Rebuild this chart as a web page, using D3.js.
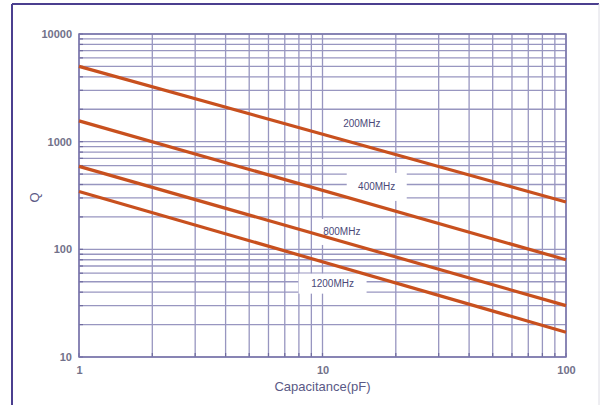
<!DOCTYPE html>
<html>
<head>
<meta charset="utf-8">
<script src="https://cdn.jsdelivr.net/npm/d3@7"></script>
<style>
  html, body { margin: 0; padding: 0; background: #ffffff; }
  svg { display: block; }
</style>
</head>
<body>
<script>
// Q versus capacitance for an RF capacitor family, one line per frequency
const capacitance = [1, 100];               // pF, line end points
const q200MHz  = [5000, 275];
const q400MHz  = [1560, 80];
const q800MHz  = [590, 30];
const q1200MHz = [345, 17];
const seriesNames = ["200MHz", "400MHz", "800MHz", "1200MHz"];
// label anchor points in data units (capacitance, Q)
const labelC = [14.5, 16.7, 12.0, 11.0];
const labelQ = [1460, 380, 145, 48];

const xTickValues = [1, 10, 100];
const yTickValues = [10, 100, 1000, 10000];

const W = 600, H = 405;
const svg = d3.select("body").append("svg").attr("width", W).attr("height", H);

// outer frame
svg.append("line").attr("x1", 12).attr("x2", 12).attr("y1", 4).attr("y2", H)
  .attr("stroke", "#4b3f8f").attr("stroke-width", 2);
svg.append("line").attr("x1", 12).attr("x2", 599).attr("y1", 4).attr("y2", 4)
  .attr("stroke", "#4b3f8f").attr("stroke-width", 2);
svg.append("line").attr("x1", 599).attr("x2", 599).attr("y1", 4).attr("y2", H)
  .attr("stroke", "#dcdce4").attr("stroke-width", 1);

const x = d3.scaleLog().domain([1, 100]).range([79, 566]);
const y = d3.scaleLog().domain([10, 10000]).range([357, 34]);

const gridColor = "#9896c0";
const grid = svg.append("g");

// all decade sub-divisions
const xGrid = [];
for (let d = 1; d < 100; d *= 10) for (let k = 1; k < 10; k++) xGrid.push(d * k);
xGrid.push(100);
const yGrid = [];
for (let d = 10; d < 10000; d *= 10) for (let k = 1; k < 10; k++) yGrid.push(d * k);
yGrid.push(10000);

grid.selectAll("line.v").data(xGrid).join("line")
  .attr("x1", d => x(d)).attr("x2", d => x(d))
  .attr("y1", y(10)).attr("y2", y(10000))
  .attr("stroke", gridColor).attr("stroke-width", 1.3);
grid.selectAll("line.h").data(yGrid).join("line")
  .attr("y1", d => y(d)).attr("y2", d => y(d))
  .attr("x1", x(1)).attr("x2", x(100))
  .attr("stroke", gridColor).attr("stroke-width", 1.3);

// small inward tick marks along left and bottom
svg.append("g").selectAll("line").data(yGrid).join("line")
  .attr("x1", x(1)).attr("x2", x(1) + 4)
  .attr("y1", d => y(d)).attr("y2", d => y(d))
  .attr("stroke", "#6e6a9e").attr("stroke-width", 1.2);
svg.append("g").selectAll("line").data(xGrid).join("line")
  .attr("y1", y(10)).attr("y2", y(10) - 4)
  .attr("x1", d => x(d)).attr("x2", d => x(d))
  .attr("stroke", "#6e6a9e").attr("stroke-width", 1.2);

// plot border
svg.append("rect")
  .attr("x", x(1)).attr("y", y(10000))
  .attr("width", x(100) - x(1)).attr("height", y(10) - y(10000))
  .attr("fill", "none").attr("stroke", "#7a76aa").attr("stroke-width", 1.5);

// white patches behind the series labels
const boxes = [
  { w: 44, h: 16 },
  { w: 60, h: 28 },
  { w: 52, h: 26 },
  { w: 68, h: 20 }
];
svg.append("g").selectAll("rect").data(seriesNames).join("rect")
  .attr("x", (d, i) => x(labelC[i]) - boxes[i].w / 2)
  .attr("y", (d, i) => y(labelQ[i]) - boxes[i].h / 2)
  .attr("width", (d, i) => boxes[i].w)
  .attr("height", (d, i) => boxes[i].h)
  .attr("fill", "#ffffff");

// Q lines
const allSeries = [q200MHz, q400MHz, q800MHz, q1200MHz];
const line = d3.line().x(d => x(d[0])).y(d => y(d[1]));
svg.append("g").selectAll("path").data(allSeries).join("path")
  .attr("d", s => line(capacitance.map((c, i) => [c, s[i]])))
  .attr("fill", "none").attr("stroke", "#c8501e").attr("stroke-width", 3.2);

// series labels
svg.append("g").selectAll("text").data(seriesNames).join("text")
  .attr("x", (d, i) => x(labelC[i]))
  .attr("y", (d, i) => y(labelQ[i]))
  .attr("text-anchor", "middle").attr("dominant-baseline", "central")
  .attr("font-family", "Liberation Sans, Arial, sans-serif")
  .attr("font-size", 10).attr("fill", "#4a4878")
  .text(d => d);

// axes
const xAxis = d3.axisBottom(x).tickValues(xTickValues).tickFormat(d3.format("d")).tickSize(0).tickPadding(9);
const yAxis = d3.axisLeft(y).tickValues(yTickValues).tickFormat(d3.format("d")).tickSize(0).tickPadding(7);
const gx = svg.append("g").attr("transform", `translate(0,${y(10)})`).call(xAxis);
const gy = svg.append("g").attr("transform", `translate(${x(1)},0)`).call(yAxis);
[gx, gy].forEach(g => {
  g.select(".domain").remove();
  g.selectAll("text")
    .attr("font-family", "Liberation Sans, Arial, sans-serif")
    .attr("font-size", 11).attr("font-weight", "bold").attr("fill", "#72718a");
});

// axis titles
svg.append("text").attr("x", x(10)).attr("y", 391)
  .attr("text-anchor", "middle")
  .attr("font-family", "Liberation Sans, Arial, sans-serif")
  .attr("font-size", 13).attr("fill", "#5a5986")
  .text("Capacitance(pF)");
svg.append("text")
  .attr("transform", `translate(34,${(y(10) + y(10000)) / 2 + 2}) rotate(-90)`)
  .attr("text-anchor", "middle").attr("dominant-baseline", "central")
  .attr("font-family", "Liberation Sans, Arial, sans-serif")
  .attr("font-size", 13).attr("fill", "#5a5986")
  .text("Q");
</script>
</body>
</html>
